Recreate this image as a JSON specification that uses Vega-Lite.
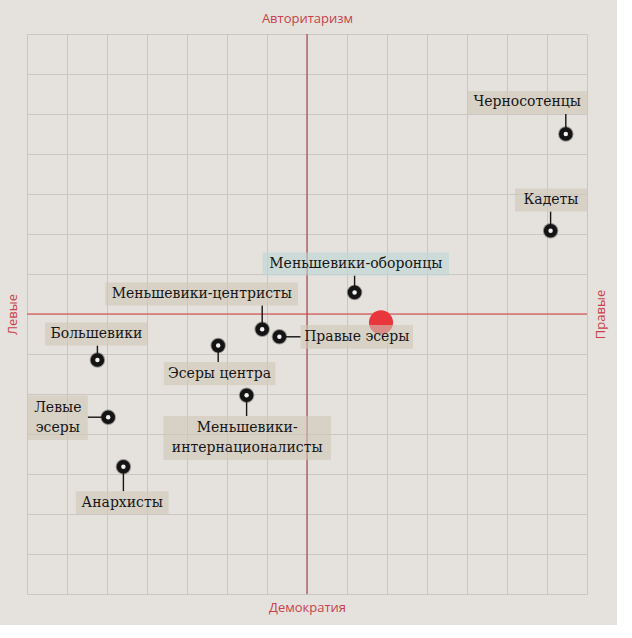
{
  "$schema": "https://vega.github.io/schema/vega-lite/v6.json",
  "width": 560,
  "height": 560,
  "autosize": {"type": "none"},
  "padding": {"left": 27, "top": 34, "right": 30, "bottom": 31},
  "background": "#e5e1dd",
  "config": {
    "view": {"stroke": null},
    "axis": {
      "titleFont": "Open Sans",
      "titleFontSize": 13,
      "titleFontWeight": "normal",
      "titleColor": "#c8414b",
      "labels": false,
      "ticks": false,
      "domain": false,
      "gridColor": "#cac7c3",
      "gridOpacity": 1,
      "gridWidth": 1
    }
  },
  "datasets": {
    "center": [{"v": 0}],
    "user": [{"x": 1.85, "y": -0.21}],
    "parties": [
      {"name": "Черносотенцы", "x": 6.47, "y": 4.5, "cx": 6.47, "cy": 5.0, "lx": 5.505, "ly": 5.29, "bx1": 4.01, "bx2": 7.0, "by1": 5.575, "by2": 5.0, "group": "other"},
      {"name": "Кадеты", "x": 6.09, "y": 2.08, "cx": 6.09, "cy": 2.56, "lx": 6.1, "ly": 2.85, "bx1": 5.2, "bx2": 7.0, "by1": 3.14, "by2": 2.56, "group": "other"},
      {"name": "Меньшевики-оборонцы", "x": 1.19, "y": 0.54, "cx": 1.19, "cy": 0.96, "lx": 1.22, "ly": 1.25, "bx1": -1.11, "bx2": 3.55, "by1": 1.54, "by2": 0.96, "group": "nearest"},
      {"name": "Меньшевики-центристы", "x": -1.12, "y": -0.38, "cx": -1.12, "cy": 0.21, "lx": -2.63, "ly": 0.5, "bx1": -5.04, "bx2": -0.225, "by1": 0.79, "by2": 0.21, "group": "other"},
      {"name": "Правые эсеры", "x": -0.69, "y": -0.57, "cx": -0.16, "cy": -0.57, "lx": 1.245, "ly": -0.57, "bx1": -0.16, "bx2": 2.65, "by1": -0.275, "by2": -0.87, "group": "other"},
      {"name": "Эсеры центра", "x": -2.22, "y": -0.79, "cx": -2.22, "cy": -1.2, "lx": -2.185, "ly": -1.49, "bx1": -3.58, "bx2": -0.79, "by1": -1.2, "by2": -1.78, "group": "other"},
      {"name": "Большевики", "x": -5.24, "y": -1.15, "cx": -5.24, "cy": -0.79, "lx": -5.265, "ly": -0.5, "bx1": -6.55, "bx2": -3.98, "by1": -0.21, "by2": -0.79, "group": "other"},
      {"name": "Меньшевики-\nинтернационалисты", "x": -1.51, "y": -2.03, "cx": -1.51, "cy": -2.55, "lx": -1.495, "ly": -2.86, "bx1": -3.59, "bx2": 0.6, "by1": -2.55, "by2": -3.65, "group": "other"},
      {"name": "Левые\nэсеры", "x": -4.97, "y": -2.58, "cx": -5.48, "cy": -2.58, "lx": -6.23, "ly": -2.35, "bx1": -6.98, "bx2": -5.48, "by1": -2.04, "by2": -3.15, "group": "other"},
      {"name": "Анархисты", "x": -4.59, "y": -3.82, "cx": -4.59, "cy": -4.43, "lx": -4.62, "ly": -4.72, "bx1": -5.78, "bx2": -3.46, "by1": -4.43, "by2": -5.01, "group": "other"}
    ]
  },
  "layer": [
    {
      "data": {"name": "parties"},
      "mark": {"type": "point", "filled": true, "shape": "circle", "size": 240, "color": "#000000", "opacity": 0.35},
      "encoding": {
        "x": {"field": "x", "type": "quantitative", "scale": {"domain": [-7, 7], "nice": false, "zero": false},
          "axis": {"orient": "bottom", "title": "Демократия", "grid": true, "values": [-7,-6,-5,-4,-3,-2,-1,0,1,2,3,4,5,6,7], "titlePadding": 7}},
        "y": {"field": "y", "type": "quantitative", "scale": {"domain": [-7, 7], "nice": false, "zero": false},
          "axis": {"orient": "left", "title": "Левые", "grid": true, "values": [-7,-6,-5,-4,-3,-2,-1,0,1,2,3,4,5,6,7], "titlePadding": 8}}
      }
    },
    {
      "data": {"name": "center"},
      "mark": {"type": "rule", "color": "#9e2d36", "strokeWidth": 1},
      "encoding": {
        "x": {"field": "v", "type": "quantitative", "scale": {"domain": [-7, 7], "nice": false, "zero": false}, "axis": null}
      }
    },
    {
      "data": {"name": "center"},
      "mark": {"type": "rule", "color": "#d83a3f", "strokeWidth": 1},
      "encoding": {
        "y": {"field": "v", "type": "quantitative", "scale": {"domain": [-7, 7], "nice": false, "zero": false}, "axis": null}
      }
    },
    {
      "data": {"name": "parties"},
      "mark": {"type": "rule", "color": "#151515", "strokeWidth": 1.4},
      "encoding": {
        "x": {"field": "x", "type": "quantitative", "scale": {"domain": [-7, 7], "nice": false, "zero": false}, "axis": null},
        "y": {"field": "y", "type": "quantitative", "scale": {"domain": [-7, 7], "nice": false, "zero": false}, "axis": null},
        "x2": {"field": "cx"},
        "y2": {"field": "cy"}
      }
    },
    {
      "data": {"name": "parties"},
      "mark": {"type": "point", "filled": true, "shape": "circle", "size": 185, "color": "#141414", "opacity": 1},
      "encoding": {
        "x": {"field": "x", "type": "quantitative", "scale": {"domain": [-7, 7], "nice": false, "zero": false}, "axis": null},
        "y": {"field": "y", "type": "quantitative", "scale": {"domain": [-7, 7], "nice": false, "zero": false}, "axis": null}
      }
    },
    {
      "data": {"name": "parties"},
      "mark": {"type": "point", "filled": true, "shape": "circle", "size": 20, "color": "#f2f2f2", "opacity": 1},
      "encoding": {
        "x": {"field": "x", "type": "quantitative", "scale": {"domain": [-7, 7], "nice": false, "zero": false}, "axis": null},
        "y": {"field": "y", "type": "quantitative", "scale": {"domain": [-7, 7], "nice": false, "zero": false}, "axis": null}
      }
    },
    {
      "data": {"name": "user"},
      "mark": {"type": "point", "filled": true, "shape": "circle", "size": 580, "color": "#e9363c", "opacity": 1},
      "encoding": {
        "x": {"field": "x", "type": "quantitative", "scale": {"domain": [-7, 7], "nice": false, "zero": false},
          "axis": {"orient": "top", "title": "Авторитаризм", "grid": false, "titlePadding": 9}},
        "y": {"field": "y", "type": "quantitative", "scale": {"domain": [-7, 7], "nice": false, "zero": false},
          "axis": {"orient": "right", "title": "Правые", "grid": false, "titleAngle": 270, "titlePadding": 20}}
      }
    },
    {
      "data": {"name": "parties"},
      "mark": {"type": "rect", "opacity": 0.6},
      "encoding": {
        "x": {"field": "bx1", "type": "quantitative", "scale": {"domain": [-7, 7], "nice": false, "zero": false}, "axis": null},
        "x2": {"field": "bx2"},
        "y": {"field": "by1", "type": "quantitative", "scale": {"domain": [-7, 7], "nice": false, "zero": false}, "axis": null},
        "y2": {"field": "by2"},
        "color": {"field": "group", "type": "nominal", "scale": {"domain": ["other", "nearest"], "range": ["#cfc6b8", "#bdd7d6"]}, "legend": null}
      }
    },
    {
      "data": {"name": "parties"},
      "mark": {"type": "text", "font": "DejaVu Serif", "fontSize": 14, "color": "#161616", "align": "center", "baseline": "middle", "lineBreak": "\n", "lineHeight": 20},
      "encoding": {
        "x": {"field": "lx", "type": "quantitative", "scale": {"domain": [-7, 7], "nice": false, "zero": false}, "axis": null},
        "y": {"field": "ly", "type": "quantitative", "scale": {"domain": [-7, 7], "nice": false, "zero": false}, "axis": null},
        "text": {"field": "name", "type": "nominal"}
      }
    }
  ],
  "resolve": {"axis": {"x": "independent", "y": "independent"}}
}
